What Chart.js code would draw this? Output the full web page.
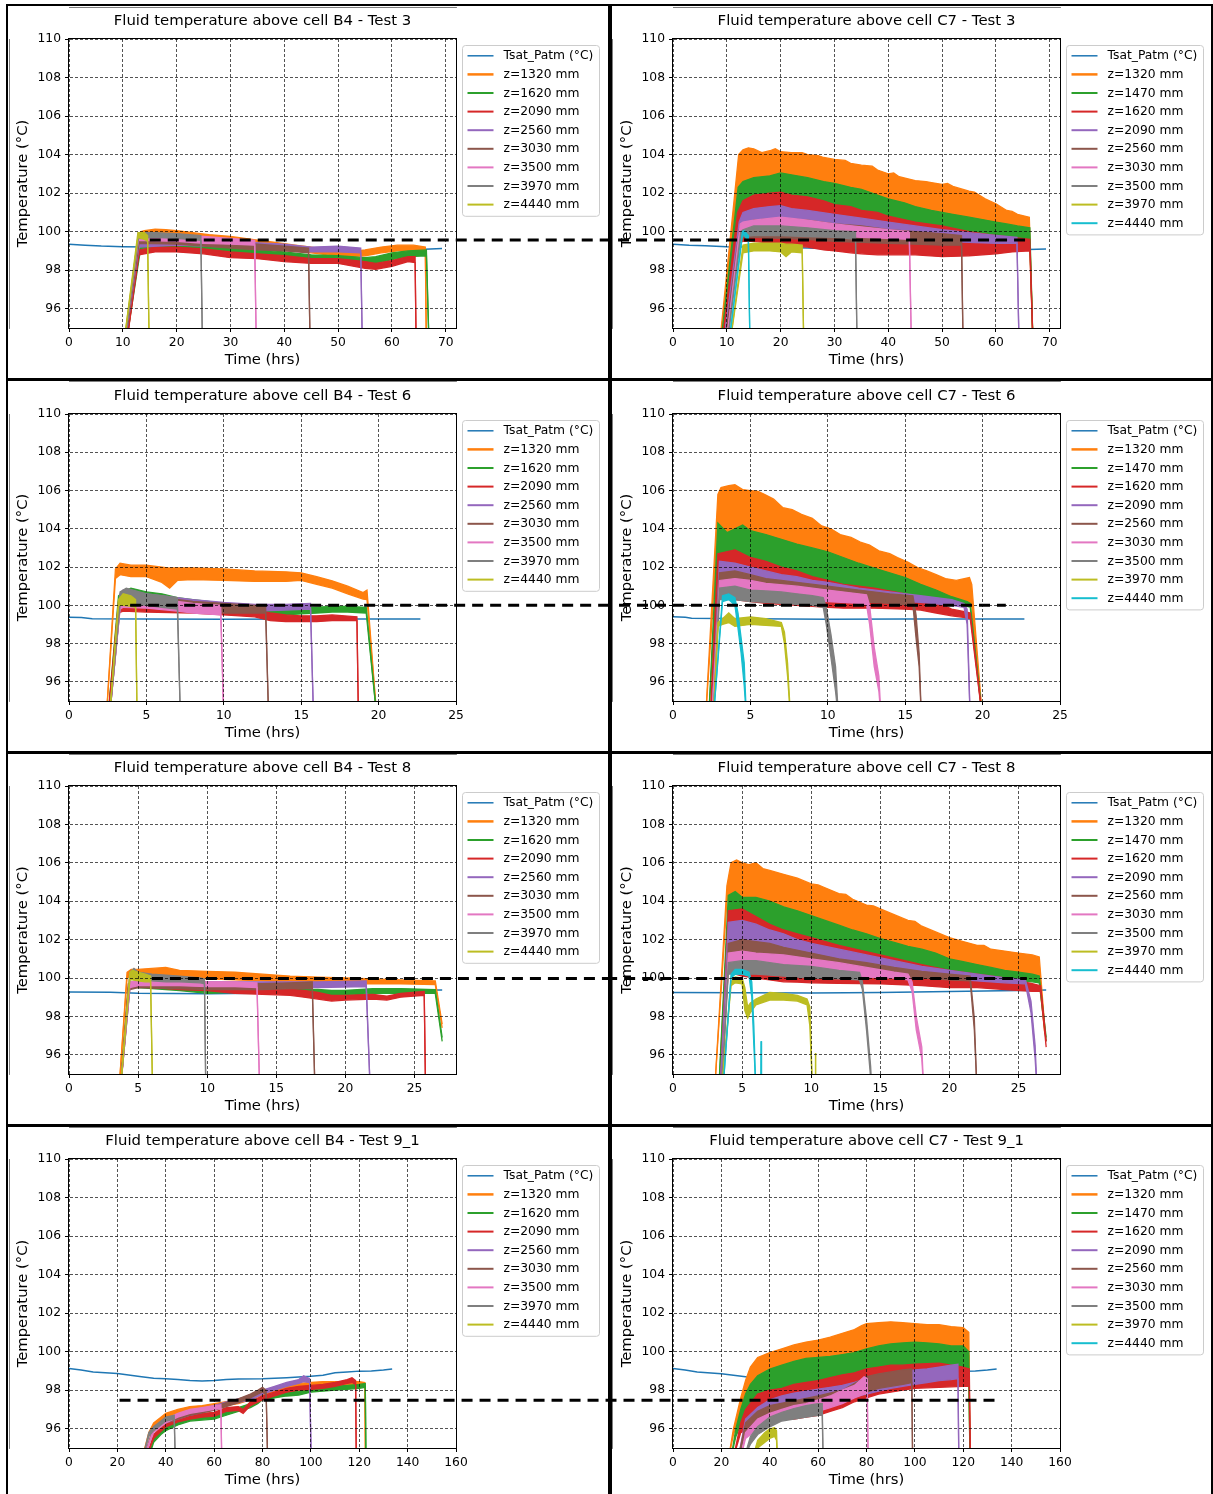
<!DOCTYPE html>
<html><head><meta charset="utf-8"><title>Fluid temperature above cells B4 and C7</title>
<script src="https://cdn.jsdelivr.net/npm/chart.js@4.4.0/dist/chart.umd.min.js"></script>
<style>
html,body{margin:0;padding:0;background:#fff;}
#page{position:relative;width:1213px;height:1494px;overflow:hidden;background:#fff;}
#page canvas{position:absolute;}
.ln{position:absolute;background:#000;z-index:5;}
</style></head><body><div id="page"></div>
<script>
// ---------------- DATA ----------------
const B4_LABELS = ['Tsat_Patm (°C)','z=1320 mm','z=1620 mm','z=2090 mm','z=2560 mm','z=3030 mm','z=3500 mm','z=3970 mm','z=4440 mm'];
const C7_LABELS = ['Tsat_Patm (°C)','z=1320 mm','z=1470 mm','z=1620 mm','z=2090 mm','z=2560 mm','z=3030 mm','z=3500 mm','z=3970 mm','z=4440 mm'];
const Y_TICKS = [96,98,100,102,104,106,108,110];
const X_TICKS_T3 = [0,10,20,30,40,50,60,70];
const X_TICKS_T6 = [0,5,10,15,20,25];
const X_TICKS_T8 = [0,5,10,15,20,25];
const X_TICKS_T9 = [0,20,40,60,80,100,120,140,160];
const X_MAX = [71.9, 25, 28, 160];
// threshold level (°C) and span (hrs) of the dashed line per test
const LIMIT = [99.57, 100.0, 99.98, 97.48];
const B4_LIMIT_FROM = [15.0, 3.95, 6.0, 20.9];
const C7_LIMIT_TO = [65.9, 21.5, 25.6, 133.8];

// series: Tsat = [t, T]; others = [t, Tmin, Tmax] (band of the noisy signal)
// ---- B4 Test 3
const B4_T3_TSAT = [[0,99.35],[3,99.3],[6,99.25],[10,99.22],[15,99.2],[20,99.18],[25,99.15],[30,99.1],[35,99.07],[40,99.05],[45,99.02],[50,99.0],[55,99.0],[60,99.03],[65,99.08],[69.3,99.12]];
const B4_T3_Z1320 = [[10.4,94,94],[13.3,99.75,100.0],[14,99.75,100.05],[16,99.8,100.13],[18,99.8,100.1],[20,99.75,100.05],[23,99.65,99.95],[26,99.55,99.85],[30,99.45,99.75],[34,99.3,99.6],[38,99.15,99.45],[42,99.0,99.3],[45,98.9,99.2],[48,98.8,99.05],[52,98.7,98.95],[55,98.75,99.05],[58,98.9,99.2],[61,99.0,99.3],[64,99.0,99.3],[66.2,98.95,99.2],[66.4,94,94]];
const B4_T3_Z1620 = [[10.5,94,94],[13.3,99.1,99.4],[16,99.15,99.45],[20,99.1,99.4],[25,99.0,99.35],[30,98.9,99.2],[35,98.8,99.05],[40,98.65,98.95],[45,98.5,98.8],[50,98.45,98.75],[55,98.3,98.65],[57,98.35,98.7],[60,98.55,98.9],[63,98.7,99.0],[66.4,98.75,99.05],[66.9,94,94]];
const B4_T3_Z2090 = [[10.6,94,94],[13.0,98.8,99.05],[16,98.95,99.2],[20,98.95,99.2],[25,98.85,99.1],[30,98.65,98.95],[35,98.6,98.85],[40,98.45,98.75],[45,98.35,98.6],[50,98.35,98.6],[55,98.1,98.45],[57,98.05,98.35],[60,98.2,98.5],[63,98.45,98.7],[64.3,98.4,98.7],[64.5,94,94]];
const B4_T3_Z2560 = [[10.3,94,94],[13.0,99.2,99.5],[20,99.3,99.6],[30,99.2,99.5],[40,99.05,99.35],[45,98.95,99.2],[50,98.95,99.25],[54.2,98.9,99.15],[54.5,94,94]];
const B4_T3_Z3030 = [[10.3,94,94],[13.0,99.4,99.7],[20,99.35,99.65],[30,99.15,99.45],[35,99.05,99.35],[40,99.0,99.25],[44.5,98.9,99.15],[44.8,94,94]];
const B4_T3_Z3500 = [[10.2,94,94],[12.9,99.55,99.85],[20,99.5,99.8],[25,99.4,99.75],[30,99.35,99.65],[34.5,99.3,99.55],[34.8,94,94]];
const B4_T3_Z3970 = [[10.2,94,94],[12.9,99.65,99.95],[16,99.7,99.95],[20,99.65,99.9],[24.5,99.55,99.8],[24.8,94,94]];
const B4_T3_Z4440 = [[10.1,94,94],[12.8,99.7,99.95],[14,99.6,99.95],[14.6,99.5,99.8],[14.9,94,94]];
// ---- C7 Test 3
const C7_T3_TSAT = [[0,99.35],[3,99.3],[6,99.27],[10,99.22],[15,99.2],[20,99.18],[25,99.15],[30,99.1],[35,99.08],[40,99.05],[50,99.03],[60,99.05],[66,99.08],[69.3,99.1]];
const C7_T3_Z1320 = [[8.6,94,94],[12.2,102.0,104.0],[13,102.3,104.25],[14,102.4,104.35],[15,102.5,104.3],[16.5,102.55,104.1],[18,102.6,104.2],[19,102.7,104.3],[20,102.75,104.15],[22,102.65,104.1],[24,102.55,104.1],[25,102.5,104.0],[27,102.35,103.95],[28,102.3,103.85],[30,102.2,103.75],[32,102.05,103.7],[33,102.0,103.55],[35,101.9,103.45],[37,101.75,103.4],[38,101.65,103.2],[40,101.5,103.0],[41,101.45,103.05],[42,101.4,102.85],[45,101.1,102.65],[47,100.95,102.6],[48,100.9,102.55],[50,100.8,102.45],[51,100.75,102.5],[52,100.7,102.35],[55,100.55,102.1],[56,100.5,102.05],[58,100.4,101.7],[60,100.3,101.45],[62,100.2,101.1],[63,100.15,101.05],[64,100.1,100.9],[66.2,100.0,100.75],[66.9,94,94]];
const C7_T3_Z1470 = [[8.8,94,94],[12.1,100.8,102.3],[13,101.3,102.6],[15,101.6,102.8],[18,101.7,102.9],[20,101.8,103.05],[22,101.7,102.95],[25,101.5,102.8],[28,101.3,102.6],[30,101.1,102.5],[33,101.0,102.3],[35,100.85,102.2],[38,100.7,101.9],[40,100.55,101.7],[43,100.35,101.5],[45,100.25,101.3],[48,100.1,101.1],[50,100.0,101.0],[52,99.9,100.9],[55,99.75,100.75],[58,99.6,100.6],[60,99.55,100.5],[62,99.5,100.4],[64,99.5,100.3],[66.3,99.45,100.2],[66.9,94,94]];
const C7_T3_Z1620 = [[9.0,94,94],[12.0,99.4,101.0],[13,99.5,101.6],[15,99.5,101.9],[18,99.4,102.0],[20,99.3,102.05],[22,99.25,101.9],[25,99.2,101.8],[28,99.05,101.6],[30,99.0,101.4],[33,98.9,101.3],[35,98.85,101.1],[38,98.8,101.0],[40,98.8,100.8],[45,98.8,100.5],[50,98.7,100.3],[55,98.75,100.0],[60,98.85,99.8],[63,98.95,99.7],[66.3,99.0,99.6],[66.9,94,94]];
const C7_T3_Z2090 = [[9.3,94,94],[12.3,100.0,100.5],[13,100.2,101.0],[15,100.2,101.2],[18,100.2,101.3],[20,100.2,101.35],[22,100.1,101.2],[25,100.0,101.1],[30,99.9,100.9],[35,99.8,100.7],[40,99.7,100.5],[45,99.6,100.3],[50,99.5,100.1],[55,99.45,99.95],[60,99.4,99.8],[63.9,99.4,99.7],[64.3,94,94]];
const C7_T3_Z2560 = [[9.5,94,94],[12.4,99.6,100.2],[13,99.7,100.4],[15,99.7,100.6],[20,99.65,100.7],[25,99.6,100.6],[30,99.5,100.4],[35,99.45,100.3],[40,99.4,100.1],[45,99.35,100.0],[50,99.3,99.9],[53.6,99.3,99.8],[53.9,94,94]];
const C7_T3_Z3030 = [[9.8,94,94],[12.5,99.9,100.4],[13,100.0,100.5],[15,100.0,100.6],[20,99.95,100.75],[25,99.9,100.6],[30,99.8,100.4],[35,99.7,100.25],[40,99.65,100.1],[43.9,99.6,100.0],[44.3,94,94]];
const C7_T3_Z3500 = [[10.0,94,94],[12.6,99.7,100.0],[13,99.75,100.1],[15,99.8,100.3],[20,99.8,100.3],[25,99.75,100.2],[30,99.7,100.05],[33.9,99.6,100.0],[34.2,94,94]];
const C7_T3_Z3970 = [[10.5,94,94],[13,98.9,99.3],[15,99.0,99.4],[18,99.0,99.4],[20,98.95,99.4],[21,98.7,99.35],[22,98.95,99.35],[24,98.9,99.3],[24.3,94,94]];
const C7_T3_Z4440 = [[10.3,94,94],[12.9,99.8,100.0],[13.2,99.85,100.05],[14.0,99.5,99.8],[14.3,94,94]];
// ---- B4 Test 6
const B4_T6_TSAT = [[0,99.38],[0.8,99.37],[1.5,99.3],[5,99.28],[10,99.27],[15,99.28],[20,99.28],[22.7,99.28]];
const B4_T6_Z1320 = [[2.4,94,94],[3.0,101.4,101.9],[3.3,101.6,102.2],[4,101.5,102.1],[5,101.5,102.1],[6,101.2,102.0],[6.5,100.9,101.95],[7,101.3,101.95],[8,101.35,101.95],[10,101.3,101.9],[12,101.25,101.8],[14,101.25,101.75],[15,101.3,101.7],[16,101.1,101.5],[17,100.9,101.28],[18,100.6,101.0],[19,100.33,100.67],[19.25,100.3,100.8],[19.9,94,94]];
const B4_T6_Z1620 = [[2.5,94,94],[3.2,99.8,100.5],[3.5,99.9,100.7],[4,99.9,100.9],[5,99.8,100.7],[6,99.75,100.6],[7,99.7,100.4],[8,99.65,100.3],[9,99.6,100.2],[10,99.55,100.1],[12,99.55,99.95],[13,99.55,99.85],[14,99.5,99.85],[15,99.55,99.85],[16,99.6,99.9],[17,99.65,99.95],[18,99.65,99.95],[19.2,99.6,99.9],[19.9,94,94]];
const B4_T6_Z2090 = [[2.5,94,94],[3.2,99.6,100.2],[3.5,99.7,100.3],[5,99.65,100.2],[8,99.6,100.0],[10,99.5,99.95],[12,99.4,99.8],[13,99.2,99.6],[14,99.15,99.5],[15,99.15,99.45],[16,99.15,99.45],[17,99.2,99.5],[18.6,99.2,99.4],[18.7,94,94]];
const B4_T6_Z2560 = [[2.6,94,94],[3.3,99.9,100.6],[3.5,100.0,100.8],[5,99.95,100.6],[8,99.8,100.3],[10,99.75,100.15],[12,99.7,100.05],[14,99.75,100.05],[15.6,99.8,100.1],[15.8,94,94]];
const B4_T6_Z3030 = [[2.6,94,94],[3.3,99.9,100.5],[3.5,100.0,100.7],[5,99.9,100.5],[8,99.7,100.2],[10,99.6,100.1],[12,99.6,100.0],[12.7,99.6,100.0],[12.9,94,94]];
const B4_T6_Z3500 = [[2.6,94,94],[3.3,99.8,100.4],[3.5,99.9,100.5],[5,99.85,100.4],[7,99.7,100.2],[8,99.6,100.1],[9.8,99.5,100.0],[10.0,94,94]];
const B4_T6_Z3970 = [[2.6,94,94],[3.3,100.0,100.7],[3.7,100.1,100.9],[5,100.0,100.6],[6,99.9,100.5],[7.0,99.8,100.4],[7.2,94,94]];
const B4_T6_Z4440 = [[2.6,94,94],[3.2,100.0,100.3],[3.5,100.0,100.6],[4.0,99.95,100.5],[4.3,99.9,100.3],[4.4,94,94]];
// ---- C7 Test 6
const C7_T6_TSAT = [[0,99.4],[0.8,99.38],[1.2,99.33],[5,99.3],[10,99.27],[15,99.28],[20,99.28],[22.7,99.28]];
const C7_T6_Z1320 = [[2.1,94,94],[2.9,104.0,105.8],[3.1,103.8,106.15],[3.6,103.8,106.25],[4,103.8,106.3],[4.5,103.75,106.05],[5,103.7,106.0],[5.5,103.55,105.95],[5.9,103.4,105.8],[6.5,103.3,105.55],[7.1,103.2,105.1],[7.7,103.05,105.0],[8.3,102.9,104.75],[9,102.75,104.55],[9.6,102.6,104.15],[10.2,102.45,104.0],[10.8,102.25,103.7],[11.5,102.1,103.55],[12.1,101.95,103.3],[12.7,101.8,103.15],[13.3,101.7,102.85],[14,101.5,102.7],[14.5,101.35,102.5],[15.2,101.2,102.25],[15.8,101.0,101.97],[16.4,100.8,101.8],[17.0,100.6,101.6],[17.6,100.45,101.4],[18.3,100.25,101.3],[19.15,100.0,101.45],[19.3,99.9,101.1],[20.0,94,94]];
const C7_T6_Z1470 = [[2.3,94,94],[2.9,102.5,104.3],[3.5,102.3,103.8],[4,102.4,104.0],[4.5,102.5,104.2],[5,102.3,103.9],[6,102.1,103.7],[7,101.9,103.45],[8,101.7,103.2],[9,101.5,103.0],[10,101.3,102.8],[11,101.1,102.5],[12,100.9,102.2],[13,100.8,101.95],[14,100.6,101.7],[15,100.5,101.45],[16,100.4,101.1],[17,100.2,100.8],[18,100.05,100.45],[19,99.95,100.2],[19.2,99.9,100.1],[20.0,94,94]];
const C7_T6_Z1620 = [[2.4,94,94],[2.9,100.4,102.7],[4,100.3,102.9],[5,100.2,102.5],[6,100.1,102.3],[7,100.05,102.0],[8,100.0,101.8],[9,99.95,101.5],[10,99.9,101.3],[11,99.85,101.1],[12,99.85,101.0],[13,99.85,100.9],[15,99.8,100.6],[16,99.75,100.4],[17,99.6,100.2],[18,99.45,99.8],[19,99.35,99.65],[19.2,99.3,99.6],[20.0,94,94]];
const C7_T6_Z2090 = [[2.5,94,94],[3.0,101.2,102.3],[4,101.1,102.2],[5,101.0,102.0],[6,100.9,101.8],[7,100.8,101.6],[8,100.7,101.5],[9,100.6,101.3],[10,100.55,101.2],[12,100.4,100.9],[14,100.25,100.7],[16,100.15,100.5],[18,100.0,100.3],[18.8,99.9,100.1],[19.0,99.0,99.8],[19.2,94,94]];
const C7_T6_Z2560 = [[2.5,94,94],[3.0,100.8,101.7],[4,100.8,101.8],[5,100.7,101.6],[6,100.6,101.4],[7,100.5,101.3],[8,100.4,101.2],[10,100.3,101.0],[12,100.2,100.8],[14,100.1,100.6],[15.5,100.0,100.5],[15.7,98.3,99.5],[15.9,96.8,97.5],[16.05,94,94]];
const C7_T6_Z3030 = [[2.5,94,94],[3.0,100.6,101.3],[4,100.6,101.4],[5,100.5,101.3],[6,100.45,101.15],[8,100.3,101.0],[10,100.2,100.8],[12,100.1,100.6],[12.5,100.05,100.55],[12.7,99.0,100.0],[13.0,96.8,97.8],[13.3,95.5,96.3],[13.45,94,94]];
const C7_T6_Z3500 = [[2.6,94,94],[3.0,100.3,100.9],[4,100.3,101.0],[5,100.2,100.8],[6,100.15,100.75],[7,100.1,100.7],[8,100.05,100.6],[9,100.0,100.5],[9.7,99.9,100.4],[9.9,99.0,99.9],[10.2,97.3,98.5],[10.5,95.5,96.8],[10.7,94,94]];
const C7_T6_Z3970 = [[2.6,94,94],[2.9,98.9,99.1],[3.2,99.0,99.3],[3.6,99.1,99.6],[4,98.9,99.3],[5,99.0,99.4],[6,98.95,99.3],[7.0,98.9,99.1],[7.2,98.0,98.6],[7.4,96.3,97.0],[7.6,94,94]];
const C7_T6_Z4440 = [[2.6,94,94],[3.2,100.2,100.5],[3.6,100.3,100.6],[4.0,100.0,100.4],[4.2,98.8,99.6],[4.4,97.5,98.3],[4.6,95.8,97.0],[4.75,94,94]];
// ---- B4 Test 8
const B4_T8_TSAT = [[0,99.27],[3,99.26],[5,99.2],[10,99.18],[15,99.22],[20,99.28],[23,99.35],[27,99.38]];
const B4_T8_Z1320 = [[3.6,94,94],[4.2,100.0,100.3],[4.5,100.1,100.45],[5,100.15,100.45],[6,100.1,100.5],[7,100.1,100.55],[8,100.05,100.4],[10,99.95,100.35],[12,99.9,100.3],[14,99.85,100.2],[16,99.8,100.1],[18,99.75,100.05],[20,99.7,100.0],[22,99.7,99.95],[24,99.7,99.9],[26.5,99.65,99.85],[27.0,97.4,97.6]];
const B4_T8_Z1620 = [[3.7,94,94],[4.3,99.5,99.7],[5,99.5,99.75],[6,99.45,99.7],[8,99.35,99.6],[10,99.2,99.5],[12,99.25,99.45],[14,99.2,99.45],[16,99.2,99.4],[18,99.15,99.4],[19,99.05,99.35],[20,99.1,99.35],[22,99.2,99.45],[24,99.2,99.45],[26.5,99.2,99.4],[27.0,96.7,96.9]];
const B4_T8_Z2090 = [[3.7,94,94],[4.3,99.4,99.7],[4.5,99.55,99.8],[6,99.5,99.75],[8,99.4,99.65],[10,99.35,99.6],[12,99.2,99.5],[14,99.15,99.45],[16,99.1,99.4],[17,99.0,99.35],[18,98.9,99.25],[19,98.8,99.1],[20,98.85,99.1],[22,98.9,99.15],[23,98.85,99.05],[24,99.0,99.2],[25.7,99.1,99.3],[25.8,94,94]];
const B4_T8_Z2560 = [[3.7,94,94],[4.4,99.5,99.8],[5,99.6,99.85],[10,99.55,99.8],[15,99.55,99.8],[18,99.5,99.8],[21.5,99.55,99.85],[21.8,94,94]];
const B4_T8_Z3030 = [[3.7,94,94],[4.4,99.4,99.7],[5,99.5,99.8],[10,99.4,99.7],[14,99.4,99.7],[16,99.45,99.75],[17.6,99.45,99.8],[17.8,94,94]];
const B4_T8_Z3500 = [[3.7,94,94],[4.4,99.5,99.8],[5,99.6,99.85],[8,99.6,99.85],[10,99.55,99.8],[12,99.55,99.8],[13.6,99.5,99.75],[13.8,94,94]];
const B4_T8_Z3970 = [[3.7,94,94],[4.4,99.9,100.3],[4.7,99.95,100.5],[5,99.9,100.3],[6,99.85,100.2],[7,99.8,100.15],[8,99.8,100.1],[9.5,99.75,100.0],[9.8,99.7,99.95],[9.9,94,94]];
const B4_T8_Z4440 = [[3.7,94,94],[4.4,99.9,100.3],[4.6,99.9,100.4],[5,99.85,100.3],[5.5,99.8,100.2],[5.9,99.8,100.1],[6.05,94,94]];
// ---- C7 Test 8
const C7_T8_TSAT = [[0,99.25],[5,99.23],[10,99.22],[15,99.25],[20,99.3],[25,99.35],[27,99.38]];
const C7_T8_Z1320 = [[3.0,94,94],[3.9,104.0,104.8],[4.2,104.1,106.0],[4.6,104.2,106.15],[5,104.0,106.0],[5.5,104.0,105.9],[6,104.0,106.0],[6.5,103.9,105.7],[7,103.8,105.6],[8,103.5,105.4],[9,103.3,105.2],[10,103.05,104.9],[10.5,102.95,104.85],[11,102.8,104.7],[12,102.55,104.4],[12.5,102.45,104.35],[13,102.3,104.1],[14,102.1,103.8],[14.5,102.0,103.75],[15,101.85,103.6],[16,101.65,103.3],[17,101.45,103.0],[17.5,101.4,102.95],[18,101.3,102.7],[19,101.1,102.4],[20,100.8,102.1],[21,100.65,101.9],[22,100.5,101.7],[22.5,100.45,101.7],[23,100.35,101.5],[24,100.2,101.4],[25,100.1,101.3],[26,100.0,101.2],[26.5,99.9,101.1],[26.9,97.1,97.4]];
const C7_T8_Z1470 = [[3.3,94,94],[4.0,103.4,104.3],[4.5,103.5,104.5],[5,103.5,104.2],[6,103.1,104.2],[7,102.7,104.0],[8,102.4,103.7],[9,102.2,103.5],[10,102.0,103.25],[11,101.8,103.0],[12,101.6,102.75],[13,101.45,102.5],[14,101.3,102.3],[15,101.1,102.05],[16,100.9,101.85],[17,100.75,101.65],[18,100.6,101.5],[19,100.45,101.3],[20,100.3,101.0],[21,100.2,100.85],[22,100.1,100.7],[23,100.0,100.55],[24,99.9,100.4],[25,99.85,100.3],[26,99.8,100.2],[26.5,99.75,100.1],[27.0,96.7,96.9]];
const C7_T8_Z1620 = [[3.4,94,94],[4.0,100.3,103.5],[5,100.1,103.6],[6,100.0,103.2],[7,99.9,102.8],[8,99.8,102.5],[9,99.78,102.3],[10,99.75,102.1],[12,99.72,101.7],[15,99.7,101.2],[18,99.6,100.7],[20,99.5,100.4],[22,99.5,100.2],[24,99.4,100.0],[26,99.3,99.7],[26.6,99.3,99.6],[27.0,96.4,96.7]];
const C7_T8_Z2090 = [[3.4,94,94],[4.0,101.3,102.9],[5,101.3,103.0],[6,101.2,102.8],[7,101.1,102.5],[8,101.0,102.3],[9,100.9,102.0],[10,100.8,101.8],[12,100.6,101.5],[14,100.4,101.2],[16,100.2,100.9],[18,100.1,100.6],[20,99.95,100.4],[22,99.85,100.2],[24,99.75,100.0],[25.5,99.7,99.9],[25.9,98.2,98.8],[26.2,95.8,96.5],[26.35,94,94]];
const C7_T8_Z2560 = [[3.5,94,94],[4.0,100.8,101.8],[5,100.8,102.0],[6,100.7,101.9],[7,100.65,101.8],[8,100.6,101.6],[10,100.4,101.3],[12,100.3,101.0],[14,100.2,100.8],[16,100.1,100.55],[18,100.0,100.35],[20,99.9,100.2],[21.5,99.85,100.1],[21.8,97.3,97.9],[22.0,94,94]];
const C7_T8_Z3030 = [[3.5,94,94],[4.0,100.6,101.3],[5,100.6,101.4],[6,100.5,101.3],[8,100.4,101.2],[10,100.3,101.0],[12,100.15,100.8],[14,100.05,100.55],[16,100.0,100.3],[17,99.9,100.2],[17.3,99.3,99.8],[17.6,97.3,98.0],[18.0,95.8,96.4],[18.15,94,94]];
const C7_T8_Z3500 = [[3.5,94,94],[4.0,100.2,100.8],[5,100.2,100.9],[6,100.2,100.9],[8,100.1,100.7],[10,100.0,100.6],[12,99.95,100.4],[13.5,99.9,100.3],[13.7,99.4,99.8],[14.0,97.3,97.9],[14.3,94.8,95.4],[14.4,94,94]];
const C7_T8_Z3970 = [[3.5,94,94],[4.2,99.6,99.8],[4.5,99.75,100.05],[5.0,99.7,100.0],[5.2,98.3,99.5],[5.4,97.9,98.5],[5.6,98.2,98.7],[6,98.6,98.9],[7,98.85,99.25],[8,98.85,99.2],[9,98.8,99.1],[9.7,98.6,98.9],[9.9,97.5,98.5],[10.1,94,94],[10.28,94,94],[10.3,96.1,96.1],[10.33,94,94]];
const C7_T8_Z4440 = [[3.6,94,94],[4.2,100.0,100.2],[4.5,100.2,100.45],[5.0,100.2,100.45],[5.5,100.1,100.3],[5.7,99.0,99.8],[5.85,96.5,97.5],[6.0,94,94],[6.36,94,94],[6.38,96.7,96.7],[6.4,94,94]];
// ---- B4 Test 9_1
const B4_T9_TSAT = [[0,99.13],[5,99.05],[10,98.95],[20,98.87],[30,98.7],[35,98.62],[40,98.6],[45,98.55],[50,98.5],[55,98.48],[60,98.5],[65,98.55],[70,98.58],[80,98.6],[90,98.65],[100,98.72],[105,98.78],[110,98.9],[115,98.95],[120,98.99],[125,99.0],[130,99.05],[133.6,99.1]];
const B4_T9_Z1320 = [[30.3,94.5,94.5],[33,95.6,95.8],[35,96.1,96.3],[38,96.4,96.6],[40,96.6,96.8],[45,96.8,97.0],[50,96.95,97.15],[55,97.0,97.2],[60,97.1,97.3],[65,97.2,97.4],[70,97.3,97.5],[75,97.5,97.7],[80,97.75,97.95],[85,97.9,98.1],[90,98.05,98.25],[95,98.15,98.35],[100,98.2,98.4],[105,98.25,98.45],[110,98.25,98.45],[115,98.25,98.45],[120,98.25,98.45],[122.3,98.2,98.4],[122.6,94,94]];
const B4_T9_Z1620 = [[33,94.5,94.5],[35,95.3,95.5],[38,95.7,95.9],[40,95.9,96.1],[45,96.2,96.4],[50,96.4,96.6],[55,96.45,96.65],[60,96.5,96.7],[65,96.7,96.9],[70,96.9,97.1],[75,97.1,97.3],[78,97.3,97.5],[80,97.5,97.7],[85,97.6,97.8],[90,97.7,97.9],[95,97.75,97.95],[100,97.9,98.1],[105,97.95,98.15],[110,98.0,98.2],[115,98.05,98.25],[120,98.1,98.3],[122.5,98.15,98.35],[122.8,94,94]];
const B4_T9_Z2090 = [[32,94.5,94.5],[35,95.5,95.7],[40,96.1,96.3],[45,96.35,96.55],[50,96.5,96.7],[55,96.6,96.8],[60,96.65,96.85],[65,96.9,97.1],[70,96.95,97.15],[72,96.8,97.0],[75,97.2,97.4],[80,97.5,97.7],[85,97.7,97.9],[90,97.9,98.1],[95,98.0,98.2],[100,98.05,98.25],[105,98.1,98.3],[110,98.2,98.4],[115,98.35,98.55],[117,98.4,98.65],[118.5,98.3,98.5],[118.8,94,94]];
const B4_T9_Z2560 = [[31,94.5,94.5],[35,95.9,96.1],[40,96.3,96.5],[50,96.7,96.9],[60,97.0,97.2],[65,97.2,97.4],[70,97.35,97.55],[75,97.5,97.7],[80,97.8,98.0],[85,98.0,98.2],[90,98.2,98.4],[95,98.35,98.55],[97,98.45,98.75],[99.5,98.4,98.6],[100.2,94,94]];
const B4_T9_Z3030 = [[31,94.5,94.5],[35,95.9,96.1],[40,96.3,96.5],[50,96.7,96.9],[60,96.95,97.15],[65,97.15,97.35],[70,97.35,97.55],[75,97.6,97.8],[78,97.8,98.0],[80,97.9,98.15],[81.5,97.8,98.0],[82.2,94,94]];
const B4_T9_Z3500 = [[31,94.5,94.5],[35,95.8,96.0],[40,96.3,96.5],[45,96.6,96.8],[50,96.8,97.0],[55,96.9,97.1],[60,97.0,97.2],[62.8,97.05,97.25],[63.2,94,94]];
const B4_T9_Z3970 = [[30.5,94.5,94.5],[33,95.6,95.8],[35,95.9,96.1],[38,96.2,96.4],[40,96.4,96.6],[43.5,96.5,96.7],[44,94,94]];
const B4_T9_Z4440 = [];
// ---- C7 Test 9_1
const C7_T9_TSAT = [[0,99.13],[5,99.05],[10,98.95],[20,98.85],[30,98.7],[35,98.62],[40,98.6],[50,98.5],[60,98.5],[70,98.58],[80,98.6],[90,98.65],[100,98.72],[110,98.9],[120,98.99],[125,99.0],[130,99.05],[133.8,99.1]];
const C7_T9_Z1320 = [[23,94.5,94.5],[25,95.7,96.0],[28,96.8,97.6],[30,97.6,98.5],[32,98.1,99.2],[35,98.55,99.7],[38,98.75,99.85],[40,98.9,99.95],[45,99.1,100.15],[50,99.3,100.35],[55,99.45,100.5],[60,99.5,100.6],[65,99.55,100.75],[70,99.65,100.95],[75,99.75,101.15],[78,99.85,101.35],[80,99.95,101.45],[85,100.1,101.5],[90,100.2,101.55],[95,100.25,101.5],[100,100.3,101.45],[105,100.25,101.4],[110,100.2,101.4],[115,100.1,101.3],[120,100.1,101.25],[122.3,99.8,101.0],[122.8,94,94]];
const C7_T9_Z1470 = [[24,94.5,94.5],[26,95.6,96.0],[28,96.2,97.0],[30,96.9,97.8],[32,97.2,98.3],[35,97.6,98.75],[40,97.9,99.1],[45,98.0,99.3],[50,98.2,99.5],[55,98.3,99.65],[60,98.4,99.7],[65,98.55,99.75],[70,98.7,99.85],[75,98.8,99.95],[80,99.0,100.15],[85,99.1,100.3],[90,99.2,100.4],[95,99.2,100.45],[100,99.25,100.5],[105,99.25,100.45],[110,99.3,100.4],[115,99.2,100.3],[120,99.1,100.3],[122.3,99.0,100.0],[122.8,94,94]];
const C7_T9_Z1620 = [[25,94.5,94.5],[28,95.8,96.3],[30,95.9,97.0],[35,96.0,97.8],[40,96.3,98.0],[45,96.5,98.1],[50,96.5,98.3],[55,96.6,98.4],[60,96.7,98.5],[65,96.9,98.65],[70,97.1,98.8],[75,97.4,98.9],[80,97.6,99.1],[85,97.8,99.2],[90,97.9,99.3],[95,98.0,99.3],[100,98.1,99.35],[110,98.15,99.4],[120,98.2,99.2],[122.5,98.2,99.1],[123,94,94]];
const C7_T9_Z2090 = [[27,94.5,94.5],[30,95.9,96.5],[35,96.4,97.1],[40,96.7,97.5],[45,96.9,97.7],[50,97.0,97.85],[55,97.1,97.95],[60,97.2,98.05],[65,97.35,98.15],[70,97.5,98.25],[75,97.65,98.4],[80,97.8,98.6],[85,97.95,98.75],[90,98.1,98.85],[95,98.2,98.95],[100,98.3,99.05],[105,98.4,99.1],[110,98.5,99.2],[115,98.55,99.3],[117.8,98.6,99.35],[118.2,94,94]];
const C7_T9_Z2560 = [[27,94.5,94.5],[30,95.8,96.3],[35,96.3,96.9],[40,96.6,97.2],[50,96.9,97.45],[60,97.2,97.7],[70,97.5,98.0],[80,97.9,98.7],[85,98.1,98.85],[90,98.2,98.95],[95,98.3,99.05],[98.7,98.4,99.1],[99.1,94,94]];
const C7_T9_Z3030 = [[28,94.5,94.5],[30,95.5,95.8],[35,96.0,96.5],[40,96.2,96.8],[45,96.5,97.0],[50,96.7,97.2],[55,96.8,97.3],[60,96.9,97.5],[65,97.1,97.7],[70,97.3,98.0],[75,97.6,98.25],[79,97.8,98.7],[80.3,97.8,98.6],[80.7,94,94]];
const C7_T9_Z3500 = [[29.5,94.5,94.5],[32,95.2,95.6],[35,95.7,96.1],[40,96.1,96.6],[45,96.4,96.85],[50,96.5,97.05],[55,96.6,97.2],[60,96.7,97.3],[61.7,96.7,97.3],[62.1,94,94]];
const C7_T9_Z3970 = [[33,94.5,94.5],[35,95.0,95.4],[38,95.3,95.8],[40,95.5,96.0],[42,95.6,96.05],[42.8,95.4,95.9],[43.3,94,94]];
const C7_T9_Z4440 = [];

// ---------------- STYLE / LAYOUT ----------------
const FONT = 'DejaVu Sans';
const COLORS = ['#1f77b4','#ff7f0e','#2ca02c','#d62728','#9467bd','#8c564b','#e377c2','#7f7f7f','#bcbd22','#17becf'];
const COLS = [{x: 9, w: 599, chartL: 60, chartR: 447}, {x: 612, w: 599, chartL: 61, chartR: 448}];
const ROWS = [{y: 7, h: 370, top: 32, bottom: 321}, {y: 381, h: 370, top: 33, bottom: 320}, {y: 754, h: 370, top: 32, bottom: 320}, {y: 1127, h: 367, top: 32, bottom: 321}];
const TESTS = ['Test 3','Test 6','Test 8','Test 9_1'];
const X_TICKS = [X_TICKS_T3, X_TICKS_T6, X_TICKS_T8, X_TICKS_T9];
const B4_SERIES = [
  [B4_T3_TSAT,B4_T3_Z1320,B4_T3_Z1620,B4_T3_Z2090,B4_T3_Z2560,B4_T3_Z3030,B4_T3_Z3500,B4_T3_Z3970,B4_T3_Z4440],
  [B4_T6_TSAT,B4_T6_Z1320,B4_T6_Z1620,B4_T6_Z2090,B4_T6_Z2560,B4_T6_Z3030,B4_T6_Z3500,B4_T6_Z3970,B4_T6_Z4440],
  [B4_T8_TSAT,B4_T8_Z1320,B4_T8_Z1620,B4_T8_Z2090,B4_T8_Z2560,B4_T8_Z3030,B4_T8_Z3500,B4_T8_Z3970,B4_T8_Z4440],
  [B4_T9_TSAT,B4_T9_Z1320,B4_T9_Z1620,B4_T9_Z2090,B4_T9_Z2560,B4_T9_Z3030,B4_T9_Z3500,B4_T9_Z3970,B4_T9_Z4440]];
const C7_SERIES = [
  [C7_T3_TSAT,C7_T3_Z1320,C7_T3_Z1470,C7_T3_Z1620,C7_T3_Z2090,C7_T3_Z2560,C7_T3_Z3030,C7_T3_Z3500,C7_T3_Z3970,C7_T3_Z4440],
  [C7_T6_TSAT,C7_T6_Z1320,C7_T6_Z1470,C7_T6_Z1620,C7_T6_Z2090,C7_T6_Z2560,C7_T6_Z3030,C7_T6_Z3500,C7_T6_Z3970,C7_T6_Z4440],
  [C7_T8_TSAT,C7_T8_Z1320,C7_T8_Z1470,C7_T8_Z1620,C7_T8_Z2090,C7_T8_Z2560,C7_T8_Z3030,C7_T8_Z3500,C7_T8_Z3970,C7_T8_Z4440],
  [C7_T9_TSAT,C7_T9_Z1320,C7_T9_Z1470,C7_T9_Z1620,C7_T9_Z2090,C7_T9_Z2560,C7_T9_Z3030,C7_T9_Z3500,C7_T9_Z3970,C7_T9_Z4440]];

const framePlugin = {
  id: 'frame',
  afterDraw(chart) {
    const {ctx, chartArea: a} = chart;
    ctx.save();
    ctx.strokeStyle = '#000'; ctx.lineWidth = 1;
    const l = Math.round(a.left) - 0.5, t = Math.round(a.top) - 0.5;
    const r = Math.round(a.right) + 0.5, b = Math.round(a.bottom) + 0.5;
    ctx.strokeRect(l, t, r - l, b - t);
    ctx.restore();
  }
};
const boxLegendPlugin = {
  id: 'boxLegend',
  afterDraw(chart, args, opts) {
    const items = opts.items || [];
    const {ctx, chartArea: a} = chart;
    const x0 = Math.round(a.right) + 6.5, y0 = Math.round(a.top) + 6.5;
    const w = 137, h = 10.3 + (items.length - 1) * 18.6 + 11.7, rad = 3;
    ctx.save();
    ctx.beginPath();
    ctx.moveTo(x0 + rad, y0); ctx.lineTo(x0 + w - rad, y0); ctx.arcTo(x0 + w, y0, x0 + w, y0 + rad, rad);
    ctx.lineTo(x0 + w, y0 + h - rad); ctx.arcTo(x0 + w, y0 + h, x0 + w - rad, y0 + h, rad);
    ctx.lineTo(x0 + rad, y0 + h); ctx.arcTo(x0, y0 + h, x0, y0 + h - rad, rad);
    ctx.lineTo(x0, y0 + rad); ctx.arcTo(x0, y0, x0 + rad, y0, rad); ctx.closePath();
    ctx.fillStyle = 'rgba(255,255,255,0.8)'; ctx.fill();
    ctx.strokeStyle = '#cccccc'; ctx.lineWidth = 1; ctx.stroke();
    ctx.font = '12.3px "' + FONT + '"'; ctx.textBaseline = 'middle'; ctx.textAlign = 'left';
    items.forEach((it, i) => {
      const y = y0 + 10.3 + i * 18.6;
      ctx.beginPath(); ctx.strokeStyle = it.color; ctx.lineWidth = it.width;
      ctx.moveTo(x0 + 5, y); ctx.lineTo(x0 + 31, y); ctx.stroke();
      ctx.fillStyle = '#000'; ctx.fillText(it.label, x0 + 41, y + 0.5);
    });
    ctx.restore();
  }
};

const page = document.getElementById('page');
function hline(x, y, w, h) { const d = document.createElement('div'); d.className = 'ln'; d.style.left = x + 'px'; d.style.top = y + 'px'; d.style.width = w + 'px'; d.style.height = h + 'px'; page.appendChild(d); }

function makeChart(colIdx, rowIdx) {
  const col = COLS[colIdx], row = ROWS[rowIdx];
  const isB4 = colIdx === 0;
  const labels = isB4 ? B4_LABELS : C7_LABELS;
  const series = isB4 ? B4_SERIES[rowIdx] : C7_SERIES[rowIdx];
  const title = 'Fluid temperature above cell ' + (isB4 ? 'B4' : 'C7') + ' - ' + TESTS[rowIdx];
  const cv = document.createElement('canvas');
  cv.width = col.w; cv.height = row.h;
  cv.style.left = col.x + 'px'; cv.style.top = row.y + 'px';
  cv.style.width = col.w + 'px'; cv.style.height = row.h + 'px';
  page.appendChild(cv);

  const datasets = [];
  datasets.push({label: labels[0], data: series[0].map(q => ({x: q[0], y: q[1]})), borderColor: COLORS[0], backgroundColor: COLORS[0], borderWidth: 1.5, pointRadius: 0, fill: false, order: 0});
  for (let k = 1; k < series.length; k++) {
    const s = series[k];
    datasets.push({label: labels[k], data: s.map(q => ({x: q[0], y: q[1]})), borderColor: COLORS[k], backgroundColor: COLORS[k], borderWidth: 1.3, pointRadius: 0, fill: false, order: -k});
    datasets.push({label: labels[k] + ' max', data: s.map(q => ({x: q[0], y: q[2]})), borderColor: COLORS[k], backgroundColor: COLORS[k], borderWidth: 1.3, pointRadius: 0, fill: '-1', order: -k});
  }
  const span = isB4 ? [B4_LIMIT_FROM[rowIdx], 2000] : [-2000, C7_LIMIT_TO[rowIdx]];
  datasets.push({label: 'limit', data: [{x: span[0], y: LIMIT[rowIdx]}, {x: span[1], y: LIMIT[rowIdx]}], borderColor: '#000', backgroundColor: '#000', borderWidth: 3, borderDash: [11, 7], pointRadius: 0, fill: false, clip: false, order: -100});

  const legendItems = labels.map((lb, k) => ({label: lb, color: COLORS[k], width: k === 0 ? 1.5 : (k === 1 ? 2.5 : 2)}));
  const xTicks = X_TICKS[rowIdx];
  const gridCommon = {color: 'rgba(0,0,0,0.85)', lineWidth: 0.8, z: 1, tickColor: '#000', tickLength: 4, tickWidth: 1, tickBorderDash: []};
  const borderCommon = {display: true, color: '#000', width: 1, dash: [3, 2]};
  new Chart(cv, {
    type: 'line',
    data: {datasets},
    plugins: [framePlugin, boxLegendPlugin],
    options: {
      responsive: false, animation: false, devicePixelRatio: 1, events: [],
      layout: {padding: {left: 0, right: col.w - col.chartR, top: 0, bottom: 0}},
      plugins: {
        legend: {display: false}, tooltip: {enabled: false},
        title: {display: true, text: title, fullSize: false, color: '#000', font: {family: FONT, size: 14.9, weight: 'normal', lineHeight: 1.2}, padding: {top: row.top - 26.88, bottom: 9}},
        boxLegend: {items: legendItems}
      },
      scales: {
        x: {type: 'linear', min: 0, max: X_MAX[rowIdx],
          afterBuildTicks: s => { s.ticks = xTicks.map(v => ({value: v})); },
          afterFit: s => { s.height = row.h - row.bottom; },
          grid: gridCommon, border: borderCommon,
          ticks: {color: '#000', font: {family: FONT, size: 12.3}, padding: 3, maxRotation: 0, autoSkip: false},
          title: {display: true, text: 'Time (hrs)', color: '#000', font: {family: FONT, size: 14.8, lineHeight: 1.2}, padding: {top: 0, bottom: row.h - row.bottom - 32 - 8.88}}
        },
        y: {type: 'linear', min: 95, max: 110,
          afterBuildTicks: s => { s.ticks = Y_TICKS.map(v => ({value: v})); },
          afterFit: s => { s.width = col.chartL; },
          grid: gridCommon, border: borderCommon,
          ticks: {color: '#000', font: {family: FONT, size: 12.3}, padding: 4, autoSkip: false},
          title: {display: true, text: 'Temperature (°C)', color: '#000', font: {family: FONT, size: 14.8, lineHeight: 1.2}, padding: {top: col.chartL - 46 - 8.88, bottom: 0}}
        }
      }
    }
  });
}

for (let r = 0; r < 4; r++) { makeChart(0, r); makeChart(1, r); }

// panel frame lines
hline(6, 4, 1207, 2);      // top
hline(6, 4, 2, 1490);      // left
hline(1211, 4, 2, 1490);   // right
hline(608, 4, 4, 1490);    // middle
hline(6, 378, 1207, 3);
hline(6, 751, 1207, 3);
hline(6, 1124, 1207, 3);
</script></body></html>
